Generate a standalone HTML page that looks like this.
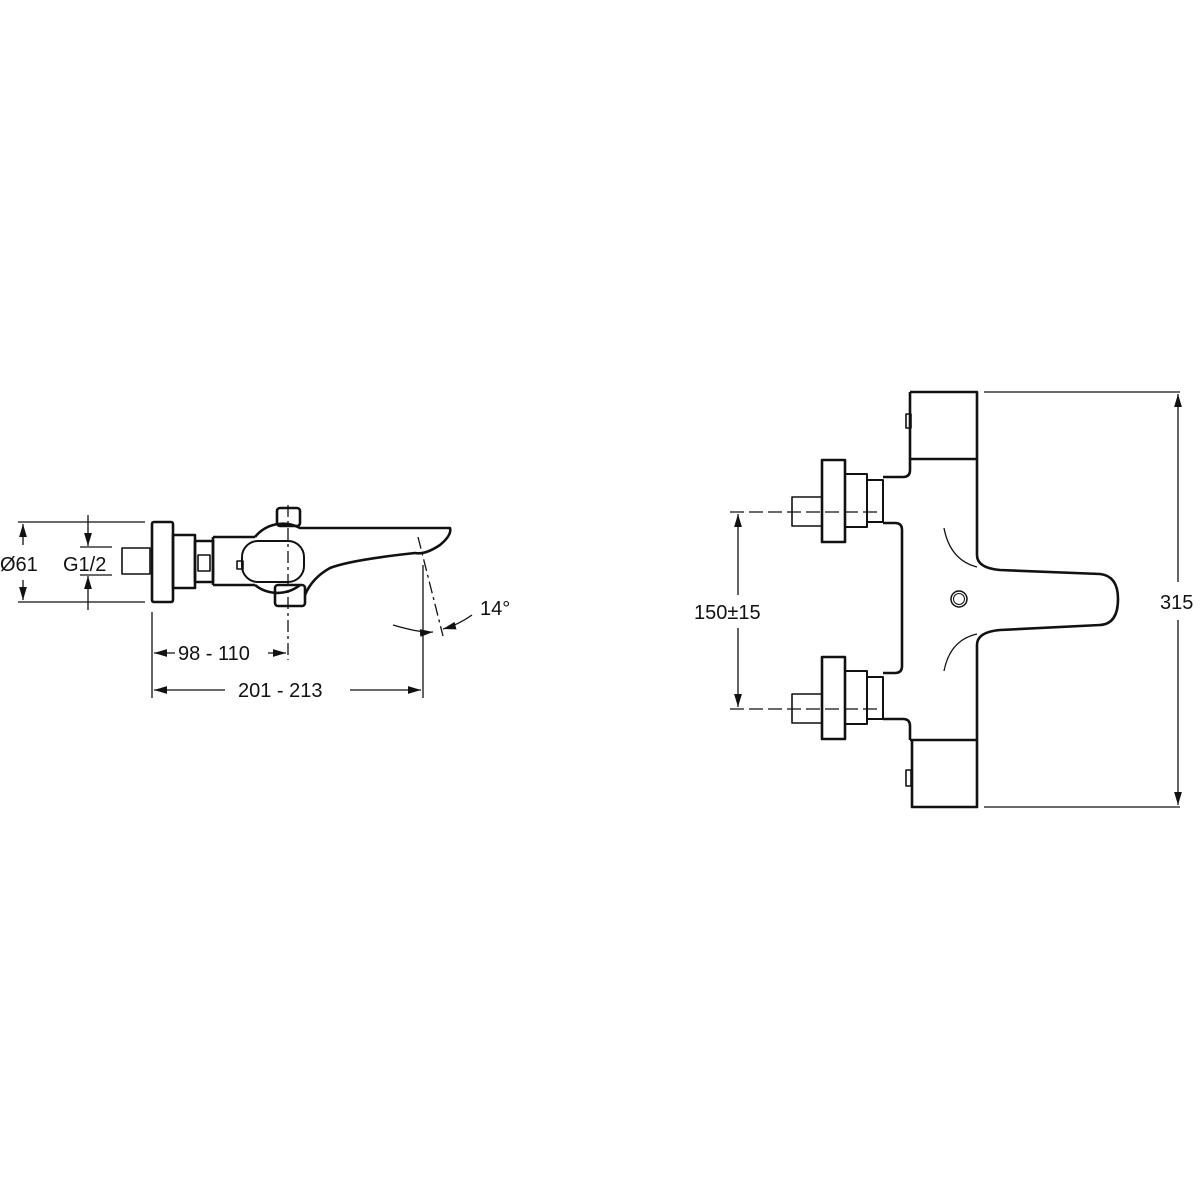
<!DOCTYPE html>
<html><head><style>html,body{margin:0;background:#fff}svg{display:block}text{font-family:"Liberation Sans",sans-serif;font-size:20px;fill:#111}</style></head>
<body>
<svg width="1200" height="1200" viewBox="0 0 1200 1200" xmlns="http://www.w3.org/2000/svg">
<defs><marker id="a" viewBox="0 0 10 6" refX="10" refY="3" markerWidth="10" markerHeight="6" orient="auto-start-reverse"><path d="M0,0L10,3L0,6z" fill="#111"/></marker></defs>
<g fill="none" stroke="#111" stroke-width="1.3">
<line x1="18" y1="522" x2="145" y2="522"/><line x1="18" y1="602" x2="145" y2="602"/>
<line x1="23" y1="545" x2="23" y2="524" marker-end="url(#a)"/><line x1="23" y1="580" x2="23" y2="600" marker-end="url(#a)"/>
<line x1="88" y1="515" x2="88" y2="546" marker-end="url(#a)"/><line x1="88" y1="610" x2="88" y2="576" marker-end="url(#a)"/>
<line x1="80" y1="547" x2="112" y2="547"/><line x1="80" y1="575" x2="112" y2="575"/>
<line x1="152" y1="612" x2="152" y2="698"/><line x1="423" y1="565" x2="423" y2="698"/>
<line x1="288" y1="505" x2="288" y2="660" stroke-dasharray="12 4 3 4"/>
<line x1="418" y1="537" x2="443" y2="636" stroke-dasharray="12 4 3 4"/>
<line x1="175" y1="653" x2="154" y2="653" marker-end="url(#a)"/><line x1="268" y1="653" x2="286" y2="653" marker-end="url(#a)"/>
<line x1="225" y1="690" x2="154" y2="690" marker-end="url(#a)"/><line x1="350" y1="690" x2="421" y2="690" marker-end="url(#a)"/>
<path d="M393,625 Q420,633 433,632" marker-end="url(#a)"/><path d="M472,615 Q458,625 443,629" marker-end="url(#a)"/>
<line x1="984" y1="392" x2="1180" y2="392"/><line x1="984" y1="807" x2="1180" y2="807"/>
<line x1="1178" y1="582" x2="1178" y2="394" marker-end="url(#a)"/><line x1="1178" y1="620" x2="1178" y2="805" marker-end="url(#a)"/>
<line x1="738" y1="595" x2="738" y2="514" marker-end="url(#a)"/><line x1="738" y1="628" x2="738" y2="707" marker-end="url(#a)"/>
<line x1="730" y1="512" x2="883" y2="512" stroke-dasharray="14 5"/><line x1="730" y1="709" x2="883" y2="709" stroke-dasharray="14 5"/>
</g>
<g fill="none" stroke="#111" stroke-width="2.6" stroke-linejoin="round">
<rect x="122" y="548" width="28" height="26" stroke-width="1.6"/>
<rect x="152" y="522" width="21" height="80" rx="2"/>
<rect x="173" y="535" width="22" height="53"/>
<rect x="195" y="541" width="18" height="41"/>
<rect x="198" y="555" width="12" height="16" stroke-width="1.6"/>
<path d="M213,537 H255 M213,585 H255 M213,537 V585"/>
<path d="M255,537 A36,36 0 0 1 300,528 H450 Q452,535 440,545 Q425,555 415,553 Q350,560 330,568 Q312,578 305,595"/>
<path d="M255,585 A36,36 0 0 0 300,585"/>
<rect x="242" y="541" width="62" height="41" rx="16" stroke-width="2"/>
<rect x="237" y="561" width="6" height="8" stroke-width="1.6"/>
<rect x="277" y="508" width="23" height="18" rx="3"/>
<rect x="275" y="585" width="30" height="21" rx="3"/>
<path d="M910,392 H977 V555 Q977,568 1000,570 L1100,574 Q1118,576 1118,599 Q1118,624 1100,625 L1000,630 Q977,632 977,645 V807 H912 V740"/>
<path d="M910,392 V459 M910,459 H977 M910,740 H977"/>
<path d="M910,459 V470 Q910,477 903,477 H883 M883,523 H895 Q902,523 902,530 V666 Q902,673 895,673 H883 M883,719 H903 Q910,719 910,726 V740"/>
<rect x="906" y="414" width="5" height="14" stroke-width="1.6"/><rect x="906" y="770" width="5" height="16" stroke-width="1.6"/>
<g id="v">
<rect x="822" y="460" width="23" height="82"/>
<rect x="845" y="474" width="22" height="53" stroke-width="2"/>
<rect x="867" y="480" width="16" height="42" stroke-width="2"/>
<rect x="792" y="497" width="30" height="29" stroke-width="1.6"/>
</g>
<use href="#v" transform="translate(0,197)"/>
<circle cx="959" cy="599" r="8" stroke-width="1.5"/><circle cx="959" cy="599" r="5.5" stroke-width="1"/>
<path d="M944,528 Q950,560 977,567" stroke-width="1.3"/><path d="M977,634 Q950,640 944,671" stroke-width="1.3"/>
</g>
<text x="0" y="571">Ø61</text><text x="63" y="571">G1/2</text>
<text x="178" y="660">98 - 110</text><text x="238" y="697">201 - 213</text>
<text x="480" y="615">14°</text>
<text x="694" y="619">150±15</text><text x="1160" y="609">315</text>
</svg>
</body></html>
